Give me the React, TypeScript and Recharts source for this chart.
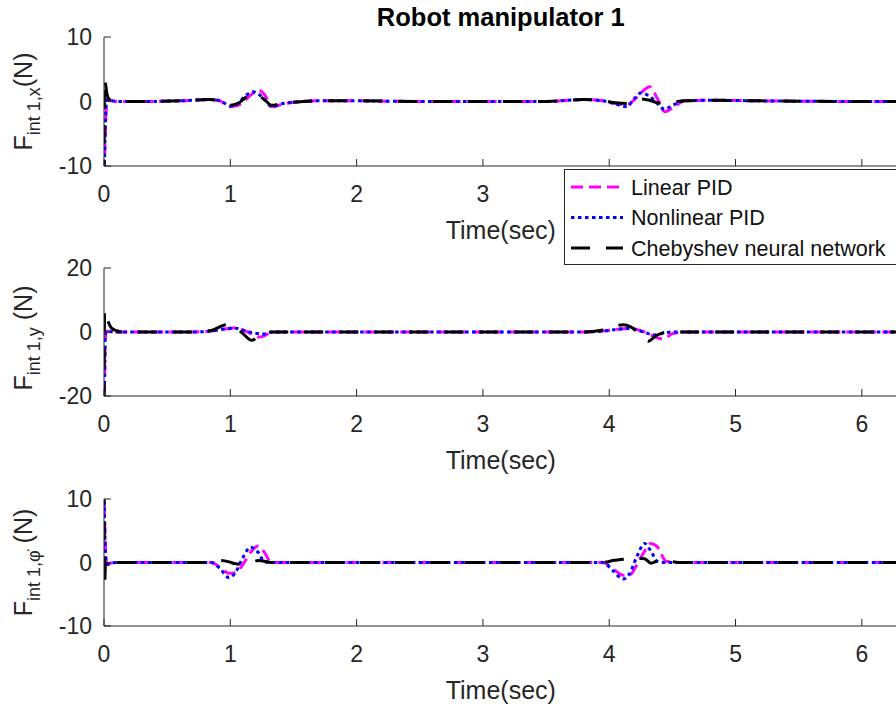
import React from 'react';
import { LineChart, Line, XAxis, YAxis, Legend, Label } from 'recharts';

const FONT = '"Liberation Sans", Arial, Helvetica, sans-serif';
const AXIS_COLOR = '#262626';
const T_END = 6.2832;
const xTicks = [0, 1, 2, 3, 4, 5, 6];

const seriesKeys = ['lin', 'nonlin', 'cheb'];
const seriesNames = ['Linear PID', 'Nonlinear PID', 'Chebyshev neural network'];
const seriesColors = ['#FF00FF', '#0000FF', '#000000'];
const seriesDash = ['12 6', '3.5 3.5', '19 16'];

// ---- Subplot 1: F int 1,x ----
const fxTime = [0, 0.005, 0.012, 0.02, 0.03, 0.045, 0.07, 0.1, 0.3, 0.6, 0.84, 0.92, 1.0, 1.06, 1.12, 1.18, 1.22, 1.27, 1.33, 1.4, 1.5, 1.7, 2.0, 2.5, 3.0, 3.5, 3.8, 3.95, 4.05, 4.14, 4.2, 4.25, 4.32, 4.38, 4.44, 4.5, 4.6, 4.8, 5.2, 6.0, 6.2832];
const fxLinear = [-14, -9, -4, -0.5, 0.3, 0.2, 0.1, 0, 0, 0.1, 0.3, 0.1, -0.8, -0.6, 0.3, 1.3, 1.8, 1.1, -0.8, -0.5, -0.1, 0.1, 0.1, 0, 0, 0, 0.3, 0.1, -0.3, -0.5, 0.3, 1.3, 2.3, 0.5, -1.6, -1.0, 0.1, 0.2, 0.1, 0, 0];
const fxNonlinear = [-13, -8, -3, 0, 0.4, 0.2, 0.1, 0, 0, 0.1, 0.3, 0.1, -0.7, -0.3, 0.9, 1.5, 1.2, 0.3, -0.8, -0.4, -0.1, 0.1, 0.1, 0, 0, 0, 0.3, 0.1, -0.4, -0.8, 0.5, 1.3, 0.8, -0.3, -1.2, -0.6, 0.1, 0.2, 0.1, 0, 0];
const fxCheb = [-12, 3.6, 2.8, 1.6, 0.7, 0.3, 0.1, 0, 0, 0.1, 0.3, 0.1, -0.6, -0.3, 0.6, 1.2, 1.0, 0.3, -0.6, -0.3, -0.1, 0.1, 0.1, 0, 0, 0, 0.3, 0.1, -0.2, -0.3, 0.2, 0.4, 0.2, -0.2, -0.3, -0.1, 0.1, 0.2, 0.1, 0, 0];

// ---- Subplot 2: F int 1,y ----
const fyTime = [0, 0.005, 0.01, 0.02, 0.035, 0.06, 0.1, 0.15, 0.4, 0.7, 0.85, 0.97, 1.04, 1.1, 1.17, 1.22, 1.27, 1.32, 1.4, 1.7, 2.5, 3.5, 3.8, 3.95, 4.11, 4.17, 4.24, 4.31, 4.36, 4.43, 4.5, 4.6, 5.0, 6.0, 6.2832];
const fyLinear = [-25, -15, -2, 0.3, 0.2, 0.1, 0, 0, 0, 0, 0.3, 1.0, 1.3, 0.6, -0.6, -1.6, -1.2, -0.2, 0, 0, 0, 0, 0, 0.3, 1.0, 1.2, 0.5, -0.5, -1.5, -2.2, -0.5, 0, 0, 0, 0];
const fyNonlinear = [-25, -14, -1, 0.3, 0.2, 0.1, 0, 0, 0, 0, 0.3, 1.0, 1.2, 0.6, -0.2, -0.5, -0.6, -0.1, 0, 0, 0, 0, 0, 0.3, 1.0, 1.1, 0.4, -0.5, -0.9, -0.4, 0, 0, 0, 0, 0];
const fyCheb = [-22, 7, 6, 4.5, 3, 1.2, 0.4, 0, 0, 0, 0.5, 2.3, 1.5, -0.5, -2.6, -1.5, -0.2, 0, 0, 0, 0, 0, 0, 0.6, 2.3, 1.6, -0.6, -2.9, -1.5, -0.2, 0, 0, 0, 0, 0];

// ---- Subplot 3: F int 1,phi ----
const fpTime = [0, 0.005, 0.012, 0.02, 0.03, 0.05, 0.1, 0.4, 0.85, 0.92, 0.99, 1.04, 1.1, 1.16, 1.22, 1.27, 1.32, 1.4, 2.0, 3.0, 3.95, 4.03, 4.11, 4.16, 4.22, 4.28, 4.33, 4.38, 4.45, 4.55, 5.0, 6.0, 6.2832];
const fpLinear = [12, 7, 2, 0, -0.3, -0.1, 0, 0, 0, -0.8, -1.7, -1.6, -0.3, 1.6, 2.6, 1.6, 0.1, 0, 0, 0, 0, -1.0, -2.0, -2.0, -0.3, 1.8, 3.0, 2.5, 0.2, 0, 0, 0, 0];
const fpNonlinear = [12, 6, 1.7, 0, -0.3, -0.1, 0, 0, 0, -1.0, -2.4, -1.6, 0.8, 2.4, 1.6, 0.1, 0, 0, 0, 0, 0, -1.3, -2.6, -1.8, 1.0, 3.0, 1.8, 0.2, 0, 0, 0, 0, 0];
const fpCheb = [12, -3.6, 0, -0.9, -0.5, -0.2, 0, 0, 0, 0.3, 0.1, -0.2, -0.3, -0.1, 0.3, 0.2, 0, 0, 0, 0, 0, 0.3, 0.5, 0.6, 0.7, 0.6, -0.1, 0.2, 0.3, 0, 0, 0, 0];

const buildRows = (t: number[], a: number[], b: number[], c: number[]) =>
  t.map((tt, i) => ({ t: tt, lin: a[i], nonlin: b[i], cheb: c[i] }));

const fxData = buildRows(fxTime, fxLinear, fxNonlinear, fxCheb);
const fyData = buildRows(fyTime, fyLinear, fyNonlinear, fyCheb);
const fpData = buildRows(fpTime, fpLinear, fpNonlinear, fpCheb);

const CHART_W = 910;
const Y_AXIS_W = 104;
const RIGHT_MARGIN = 12.4;
const PLOT_CENTER_X = Y_AXIS_W + (CHART_W - RIGHT_MARGIN - Y_AXIS_W) / 2;

const renderLegend = () => (
  <svg width={340} height={96} style={{ display: 'block', overflow: 'visible' }}>
    <rect x={0.5} y={0.5} width={339} height={95} fill="#ffffff" stroke={AXIS_COLOR} strokeWidth={1} />
    {seriesNames.map((n, i) => {
      const cy = 18 + i * 30.5;
      return (
        <g key={n}>
          <line x1={7} x2={59} y1={cy} y2={cy} stroke={seriesColors[i]} strokeWidth={3} strokeDasharray={seriesDash[i]} />
          <text x={67} y={cy} dy="0.35em" fontSize={21.5} fontFamily={FONT} fill="#111111">{n}</text>
        </g>
      );
    })}
  </svg>
);

type SubProps = {
  top: number;
  marginTop: number;
  plotH: number;
  xAxisH: number;
  data: any[];
  yDomain: [number, number];
  yTicks: number[];
  sub: string;
  gap: string;
  labelShift: number;
  title?: string;
  legend?: boolean;
  z: number;
};

const Subplot = (p: SubProps) => {
  const height = p.marginTop + p.plotH + p.xAxisH;
  return (
    <div style={{ position: 'absolute', left: 0, top: p.top, width: CHART_W, height, zIndex: p.z }}>
      <LineChart
        width={CHART_W}
        height={height}
        data={p.data}
        margin={{ top: p.marginTop, right: RIGHT_MARGIN, left: 0, bottom: 0 }}
      >
        <XAxis
          dataKey="t"
          type="number"
          domain={[0, T_END]}
          ticks={xTicks}
          allowDataOverflow
          height={p.xAxisH}
          tickSize={-7}
          tickMargin={27}
          stroke={AXIS_COLOR}
          tick={{ fontSize: 23, fill: AXIS_COLOR, fontFamily: FONT }}
          axisLine={{ stroke: AXIS_COLOR, strokeWidth: 1 }}
          tickLine={{ stroke: AXIS_COLOR, strokeWidth: 1 }}
          interval={0}
        >
          <Label
            content={(props: any) => {
              const vb = props.viewBox || {};
              return (
                <text x={vb.x + vb.width / 2} y={vb.y + 73} textAnchor="middle" fontSize={25} fontFamily={FONT} fill={AXIS_COLOR}>
                  Time(sec)
                </text>
              );
            }}
          />
        </XAxis>
        <XAxis
          xAxisId="top"
          dataKey="t"
          type="number"
          orientation="top"
          domain={[0, T_END]}
          ticks={xTicks}
          allowDataOverflow
          height={0}
          tickSize={-7}
          tick={false}
          interval={0}
          axisLine={{ stroke: AXIS_COLOR, strokeWidth: 1 }}
          tickLine={{ stroke: AXIS_COLOR, strokeWidth: 1 }}
        />
        <YAxis
          type="number"
          domain={p.yDomain}
          ticks={p.yTicks}
          allowDataOverflow
          width={Y_AXIS_W}
          tickSize={-7}
          tickMargin={19}
          interval={0}
          tick={{ fontSize: 23, fill: AXIS_COLOR, fontFamily: FONT }}
          axisLine={{ stroke: AXIS_COLOR, strokeWidth: 1 }}
          tickLine={{ stroke: AXIS_COLOR, strokeWidth: 1 }}
        >
          <Label
            content={(props: any) => {
              const vb = props.viewBox || {};
              const cx = 32;
              const cy = vb.y + vb.height / 2 + p.labelShift;
              return (
                <g>
                  <text
                    x={cx}
                    y={cy}
                    transform={`rotate(-90, ${cx}, ${cy})`}
                    textAnchor="middle"
                    fontFamily={FONT}
                    fill={AXIS_COLOR}
                    fontSize={25}
                  >
                    <tspan>F</tspan>
                    <tspan fontSize={18} dy={8}>{p.sub}</tspan>
                    <tspan dy={-8}>{p.gap + '(N)'}</tspan>
                  </text>
                  {p.title ? (
                    <text x={PLOT_CENTER_X} y={26} textAnchor="middle" fontSize={25.5} fontWeight="bold" fontFamily={FONT} fill="#000000">
                      {p.title}
                    </text>
                  ) : null}
                </g>
              );
            }}
          />
        </YAxis>
        {p.legend ? (
          <Legend
            layout="horizontal"
            verticalAlign="middle"
            align="center"
            content={renderLegend}
            wrapperStyle={{ left: 564, top: 169, width: 340, height: 96 }}
          />
        ) : null}
        {seriesKeys.map((k, i) => (
          <Line
            key={k}
            dataKey={k}
            name={seriesNames[i]}
            type="monotone"
            stroke={seriesColors[i]}
            strokeWidth={3}
            strokeDasharray={seriesDash[i]}
            dot={false}
            activeDot={false}
            isAnimationActive={false}
          />
        ))}
      </LineChart>
    </div>
  );
};

export default function App() {
  return (
    <div style={{ position: 'fixed', left: 0, top: 0, width: 896, height: 711, overflow: 'hidden', background: '#ffffff' }}>
      <Subplot top={461} marginTop={38} plotH={127} xAxisH={85} data={fpData} yDomain={[-10, 10]} yTicks={[-10, 0, 10]} sub={'int 1,\u03C6\u0307'} gap=" " labelShift={0} z={1} />
      <Subplot top={230} marginTop={38} plotH={128} xAxisH={84} data={fyData} yDomain={[-20, 20]} yTicks={[-20, 0, 20]} sub="int 1,y" gap=" " labelShift={6} z={2} />
      <Subplot top={0} marginTop={37} plotH={129} xAxisH={104} data={fxData} yDomain={[-10, 10]} yTicks={[-10, 0, 10]} sub="int 1,x" gap="" labelShift={0} title="Robot manipulator 1" legend z={3} />
    </div>
  );
}
